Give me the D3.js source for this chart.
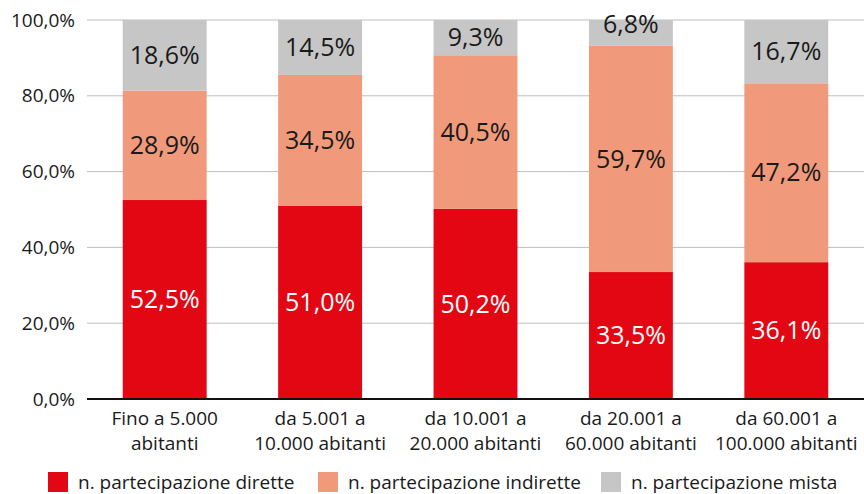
<!DOCTYPE html>
<html>
<head>
<meta charset="utf-8">
<script src="https://cdn.jsdelivr.net/npm/d3@7"></script>
<style>
  body { margin: 0; background: #fff; }
  text { font-family: "Open Sans", "Noto Sans", sans-serif; fill: #1a1a1a; }
</style>
</head>
<body>
<div class="box"></div>
<script>
// dati
const categories = [
  ['Fino a 5.000', 'abitanti'],
  ['da 5.001 a', '10.000 abitanti'],
  ['da 10.001 a', '20.000 abitanti'],
  ['da 20.001 a', '60.000 abitanti'],
  ['da 60.001 a', '100.000 abitanti']
]
const dirette = [52.5, 51.0, 50.2, 33.5, 36.1]
const indirette = [28.9, 34.5, 40.5, 59.7, 47.2]
const mista = [18.6, 14.5, 9.3, 6.8, 16.7]
const seriesNames = ['n. partecipazione dirette', 'n. partecipazione indirette', 'n. partecipazione mista']
const yTicks = [0, 20, 40, 60, 80, 100]

const colors = ['#e30613', '#f19a7b', '#c6c6c6']
const labelColors = ['#ffffff', '#1a1a1a', '#1a1a1a']

const width = 864, height = 494
const margin = {top: 20, right: 0, bottom: 95, left: 87}
const graphWidth = width - margin.left - margin.right
const graphHeight = height - margin.top - margin.bottom

const svg = d3.select('.box')
  .append('svg')
  .attr('width', width)
  .attr('height', height)

const graph = svg.append('g')
  .attr('transform', `translate(${margin.left}, ${margin.top})`)

const x = d3.scaleBand()
  .domain(d3.range(categories.length))
  .range([0, graphWidth])
  .paddingInner(0.46)
  .paddingOuter(0.23)

const y = d3.scaleLinear()
  .domain([0, 100])
  .range([graphHeight, 0])

const fmt = v => v.toFixed(1).replace('.', ',') + '%'

// griglia
graph.append('g')
  .selectAll('line')
  .data(yTicks.filter(t => t > 0))
  .enter()
  .append('line')
  .attr('x1', 0)
  .attr('x2', graphWidth)
  .attr('y1', d => y(d))
  .attr('y2', d => y(d))
  .attr('stroke', '#bdbdbd')
  .attr('stroke-width', 1)

// etichette asse y
const axeY = d3.axisLeft(y)
  .tickValues(yTicks)
  .tickSize(0)
  .tickPadding(12)
  .tickFormat(fmt)
const groupY = graph.append('g').call(axeY)
groupY.select('.domain').remove()
groupY.selectAll('text').style('font-size', '19px').attr('fill', '#1a1a1a')

// barre impilate
const table = categories.map((c, i) => ({i, dirette: dirette[i], indirette: indirette[i], mista: mista[i]}))
const stack = d3.stack().keys(['dirette', 'indirette', 'mista'])(table)

stack.forEach((layer, k) => {
  const g = graph.append('g')
  g.selectAll('rect')
    .data(layer)
    .enter()
    .append('rect')
    .attr('x', d => x(d.data.i))
    .attr('width', x.bandwidth())
    .attr('y', d => y(d[1]))
    .attr('height', d => y(d[0]) - y(d[1]))
    .attr('fill', colors[k])

  g.selectAll('text')
    .data(layer)
    .enter()
    .append('text')
    .attr('x', d => x(d.data.i) + x.bandwidth() / 2)
    .attr('y', d => {
      const mid = y((d[0] + d[1]) / 2)
      return (d[1] - d[0] < 8) ? mid - 9 : mid
    })
    .attr('dy', '0.35em')
    .attr('text-anchor', 'middle')
    .style('font-size', '25px')
    .style('fill', labelColors[k])
    .text(d => fmt(d[1] - d[0]))
})

// asse x
graph.append('line')
  .attr('x1', 0)
  .attr('x2', graphWidth)
  .attr('y1', y(0))
  .attr('y2', y(0))
  .attr('stroke', '#111')
  .attr('stroke-width', 2)

// etichette categorie, una riga per testo
const catGroup = graph.append('g')
categories.forEach((lines, i) => {
  lines.forEach((line, j) => {
    catGroup.append('text')
      .attr('text-anchor', 'middle')
      .attr('x', x(i) + x.bandwidth() / 2)
      .attr('y', graphHeight + 26 + j * 25)
      .style('font-size', '19px')
      .text(line)
  })
})

// legenda
const legendX = [48, 318, 601]
const legend = svg.append('g')
  .selectAll('g')
  .data(seriesNames)
  .enter()
  .append('g')
  .attr('transform', (d, i) => `translate(${legendX[i]}, 472)`)
legend.append('rect')
  .attr('width', 20)
  .attr('height', 20)
  .attr('fill', (d, i) => colors[i])
legend.append('text')
  .attr('x', 30)
  .attr('y', 17)
  .style('font-size', '19px')
  .text(d => d)
</script>
</body>
</html>
